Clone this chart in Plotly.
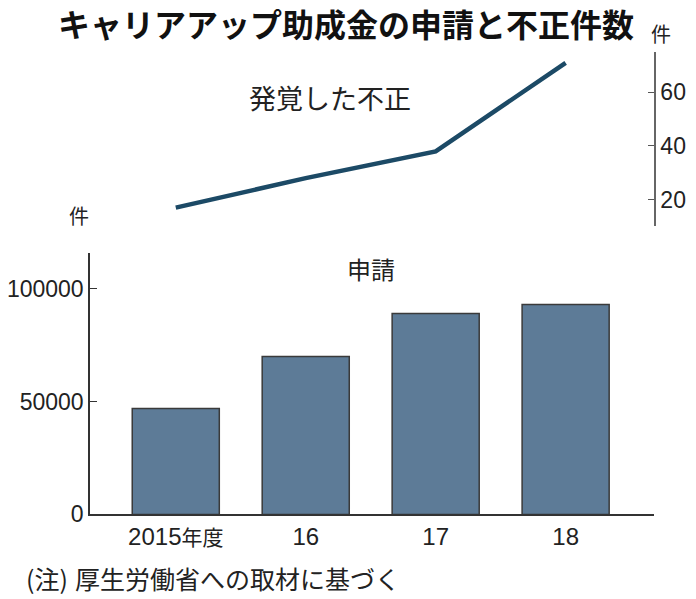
import plotly.graph_objects as go

years = ["2015年度", "16", "17", "18"]
applications = [47000, 70000, 89000, 93000]
fraud_cases = [17, 28, 38, 71]
bar_ticks = [0, 50000, 100000]
line_ticks = [20, 40, 60]

NUM_FONT = "Liberation Sans, Arial, sans-serif"
JP_FONT = "Noto Sans CJK JP"

W, H = 696, 599
K = 0.9756  # empirical vertical compression of the captured picture
px = lambda x: x / W
py = lambda y: 1 - (y / K) / H

xpos = list(range(len(years)))
ticktext = []
for t in years:
    if t.endswith("年度"):
        ticktext.append(t[:-2] + '<span style="font-family:Noto Sans CJK JP;font-size:21px">年度</span>')
    else:
        ticktext.append(t)

fig = go.Figure()
fig.add_trace(go.Bar(
    x=xpos, y=applications, width=0.67,
    marker=dict(color="#5d7b97", line=dict(color="#3a3a3a", width=1.5)),
    xaxis="x", yaxis="y", showlegend=False, hoverinfo="skip",
))
fig.add_trace(go.Scatter(
    x=xpos, y=fraud_cases, mode="lines",
    line=dict(color="#1c4a66", width=4.5),
    xaxis="x2", yaxis="y2", showlegend=False, hoverinfo="skip",
))

xr = [-0.66, 3.68]
fig.update_layout(
    width=W, height=H,
    margin=dict(l=0, r=0, t=0, b=0),
    paper_bgcolor="white", plot_bgcolor="white",
    xaxis=dict(domain=[px(90), px(654)], range=xr, tickvals=xpos, ticktext=ticktext,
               showline=True, linecolor="#333", linewidth=1.5, ticks="",
               showgrid=False, zeroline=False,
               tickfont=dict(family=NUM_FONT, size=24, color="#222"), anchor="y"),
    yaxis=dict(domain=[py(513), py(252)], range=[0, 116000], tickvals=bar_ticks,
               ticktext=[str(v) for v in bar_ticks],
               showline=True, linecolor="#333", linewidth=1.5, ticks="inside", ticklen=7,
               tickcolor="#333", showgrid=False, zeroline=False,
               tickfont=dict(family=NUM_FONT, size=23, color="#222"), anchor="x"),
    xaxis2=dict(domain=[px(90), px(654)], range=xr, visible=False, anchor="y2"),
    yaxis2=dict(domain=[py(225), py(52)], range=[10.3, 75], tickvals=line_ticks, side="right",
                showline=True, linecolor="#666", linewidth=1.5, ticks="inside", ticklen=6,
                tickcolor="#555", showgrid=False, zeroline=False,
                tickfont=dict(family=NUM_FONT, size=23, color="#222"), anchor="x2"),
)

annos = [
    dict(text="<b>キャリアアップ助成金の申請と不正件数</b>", x=px(346), y=py(23), size=32, color="#111"),
    dict(text="件", x=px(661), y=py(33), size=20, color="#222"),
    dict(text="件", x=px(79), y=py(215), size=20, color="#222"),
    dict(text="発覚した不正", x=px(330), y=py(97), size=27, color="#222"),
    dict(text="申請", x=px(371), y=py(268), size=24, color="#222"),
    dict(text="(注)", x=px(47), y=py(576), size=25, color="#222"),
]
for a in annos:
    fig.add_annotation(text=a["text"], x=a["x"], y=a["y"], xref="paper", yref="paper",
                       xanchor="center", yanchor="middle", showarrow=False,
                       font=dict(family=JP_FONT, size=a["size"], color=a["color"]))
fig.add_annotation(text="厚生労働省への取材に基づく", x=px(73), y=py(576), xref="paper", yref="paper",
                   xanchor="left", yanchor="middle", showarrow=False,
                   font=dict(family=JP_FONT, size=25, color="#222"))

fig.write_html("out.html")
